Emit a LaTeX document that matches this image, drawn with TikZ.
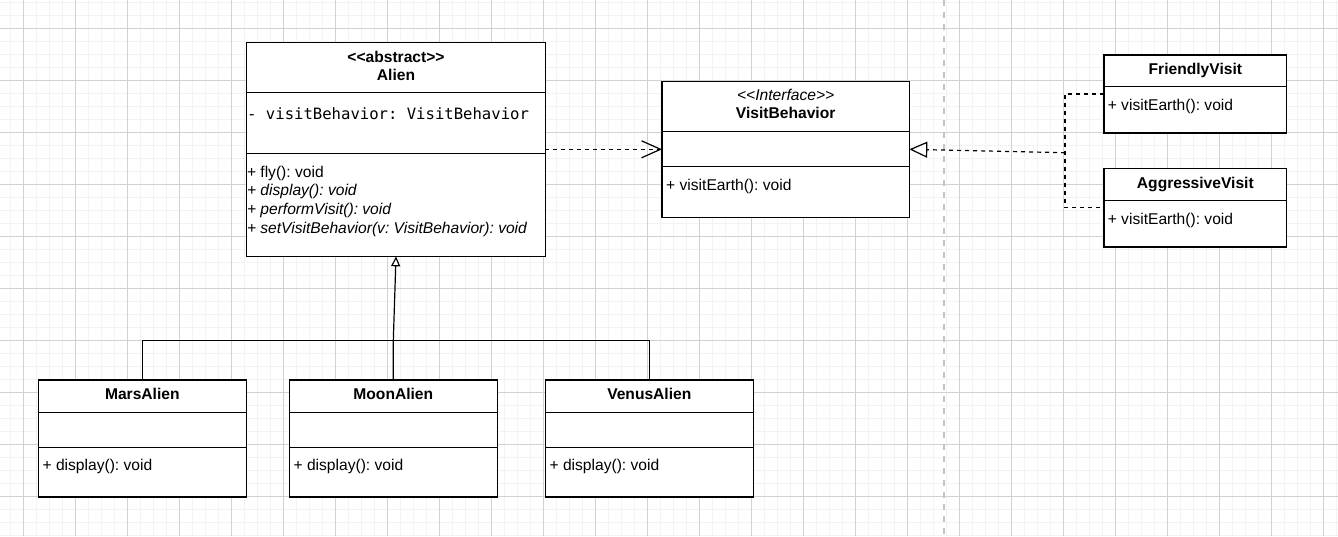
\documentclass[tikz,border=0pt]{standalone}
\usepackage{fontspec}
\newfontfamily\uifont{Liberation Sans}
\newfontfamily\codefont{DejaVu Sans Mono}
\usetikzlibrary{arrows.meta}
\definecolor{minorc}{HTML}{F3F3F3}
\definecolor{majorc}{HTML}{D2D2D2}
\definecolor{sepc}{HTML}{C4C4C4}
\frenchspacing
\begin{document}
\frenchspacing
\begin{tikzpicture}[x=1pt,y=-1pt,
  umlbox/.style={draw=black, line width=1.2pt, fill=white, inner sep=0pt, outer sep=0pt, rectangle},
  sepline/.style={line width=1.2pt},
  txt/.style={font=\uifont\frenchspacing\fontsize{15.6pt}{18.7pt}\selectfont, inner sep=0pt, anchor=base west},
  itxt/.style={font=\uifont\frenchspacing\itshape\fontsize{15.6pt}{18.7pt}\selectfont, inner sep=0pt, anchor=base west},
  mtxt/.style={font=\codefont\frenchspacing\fontsize{15.6pt}{18.7pt}\selectfont, inner sep=0pt, anchor=base west},
  ttl/.style={font=\uifont\frenchspacing\bfseries\fontsize{15.6pt}{18.7pt}\selectfont, inner sep=0pt, anchor=base},
  ittl/.style={font=\uifont\frenchspacing\itshape\fontsize{15.6pt}{18.7pt}\selectfont, inner sep=0pt, anchor=base},
  conn/.style={line width=1.2pt, draw=black},
  dconn/.style={conn, dash pattern=on 4pt off 4pt},
]
\useasboundingbox (0,0) rectangle (1338,536);
\fill[white] (0,0) rectangle (1338,536);
% grid
\foreach \i in {0,...,103} \draw[minorc, line width=1.2pt] ({-2.7+13*\i},0) -- ({-2.7+13*\i},536);
\foreach \i in {0,...,41} \draw[minorc, line width=1.2pt] (0,{2.3+13*\i}) -- (1338,{2.3+13*\i});
\foreach \i in {0,...,25} \draw[majorc, line width=1pt] ({23.3+52*\i},0) -- ({23.3+52*\i},536);
\foreach \i in {0,...,9} \draw[majorc, line width=1pt] (0,{28.3+52*\i}) -- (1338,{28.3+52*\i});
% separator
\draw[sepc, line width=2pt, dash pattern=on 6pt off 6pt] (943.7,0) -- (943.7,536);

% Alien
\node[umlbox, minimum width=298.6pt, minimum height=214pt] (alien) at (396,149.3) {};
\draw[sepline] (alien.west |- 0,92.3) -- (alien.east |- 0,92.3);
\draw[sepline] (alien.west |- 0,153.7) -- (alien.east |- 0,153.7);
\node[ttl] (alienst) at (396,62.3) {<<abstract>>};
\node[ttl] (alienname) at (396,80.3) {Alien};
\node[mtxt] (alienattr) at (247,119) {- visitBehavior: VisitBehavior};
\node[txt] (alienm1) at (246.8,177) {+ fly(): void};
\node[itxt] (alienm2) at (246.8,195.5) {+ display(): void};
\node[itxt] (alienm3) at (246.8,214.5) {+ performVisit(): void};
\node[itxt] (alienm4) at (246.8,233.5) {+ setVisitBehavior(v: VisitBehavior): void};

% VisitBehavior
\node[umlbox, minimum width=247.3pt, minimum height=136pt] (vb) at (785.65,149.3) {};
\draw[sepline] (vb.west |- 0,131.3) -- (vb.east |- 0,131.3);
\draw[sepline] (vb.west |- 0,166.7) -- (vb.east |- 0,166.7);
\node[ittl] (vbst) at (785.65,100) {<<Interface>>};
\node[ttl] (vbname) at (785.65,118.6) {VisitBehavior};
\node[txt] (vbm1) at (666,190.3) {+ visitEarth(): void};

% FriendlyVisit
\node[umlbox, minimum width=182.7pt, minimum height=78pt] (fv) at (1195.35,94) {};
\draw[sepline] (fv.west |- 0,86.7) -- (fv.east |- 0,86.7);
\node[ttl] (fvname) at (1195.35,74.6) {FriendlyVisit};
\node[txt] (fvm1) at (1107.6,110.3) {+ visitEarth(): void};

% AggressiveVisit
\node[umlbox, minimum width=182.7pt, minimum height=78.3pt] (av) at (1195.35,207.85) {};
\draw[sepline] (av.west |- 0,200.7) -- (av.east |- 0,200.7);
\node[ttl] (avname) at (1195.35,188) {AggressiveVisit};
\node[txt] (avm1) at (1107.6,224.3) {+ visitEarth(): void};

% MarsAlien / MoonAlien / VenusAlien
\node[umlbox, minimum width=208pt, minimum height=117pt] (mars) at (142.3,438.5) {};
\draw[sepline] (mars.west |- 0,412.3) -- (mars.east |- 0,412.3);
\draw[sepline] (mars.west |- 0,447.7) -- (mars.east |- 0,447.7);
\node[ttl] (marsname) at (142.3,399.3) {MarsAlien};
\node[txt] (marsm1) at (42.4,470.3) {+ display(): void};

\node[umlbox, minimum width=208pt, minimum height=117pt] (moon) at (393.3,438.5) {};
\draw[sepline] (moon.west |- 0,412.3) -- (moon.east |- 0,412.3);
\draw[sepline] (moon.west |- 0,447.7) -- (moon.east |- 0,447.7);
\node[ttl] (moonname) at (393.3,399.3) {MoonAlien};
\node[txt] (moonm1) at (293.4,470.3) {+ display(): void};

\node[umlbox, minimum width=208pt, minimum height=117pt] (venus) at (649.3,438.5) {};
\draw[sepline] (venus.west |- 0,412.3) -- (venus.east |- 0,412.3);
\draw[sepline] (venus.west |- 0,447.7) -- (venus.east |- 0,447.7);
\node[ttl] (venusname) at (649.3,399.3) {VenusAlien};
\node[txt] (venusm1) at (549.4,470.3) {+ display(): void};

% connectors
\draw[dconn, -{Straight Barb[length=19pt, width=17pt]}] (alien.east) -- (vb.west);

\coordinate (jn) at (1065,152.7);
\draw[dconn] (fv.west) -| (jn) |- (av.west);
\draw[dconn, -{Triangle[open, fill=white, length=18pt, width=16pt]}] (jn) -- (vb.east);

\coordinate (bus) at (393.3,340.7);
\draw[conn] (mars.north) -- (mars.north |- bus) -- (venus.north |- bus) -- (venus.north);
\draw[conn, -{Triangle[open, fill=white, length=10pt, width=9pt]}] (moon.north) -- (bus) -- (alien.south);
\end{tikzpicture}
\end{document}
